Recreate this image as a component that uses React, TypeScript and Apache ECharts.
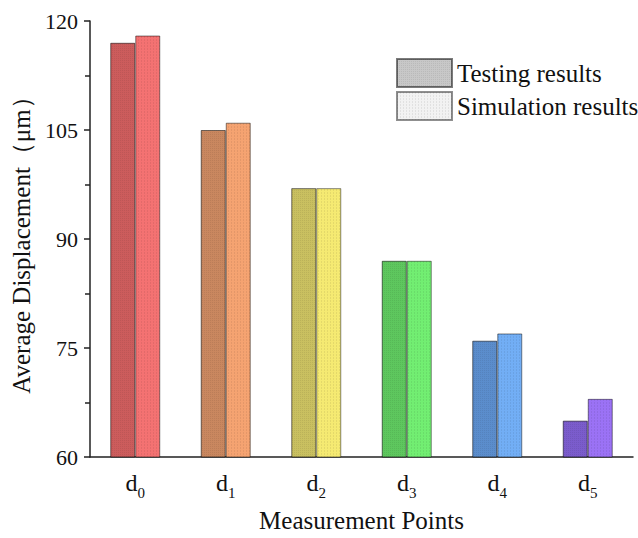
import React, { useEffect, useRef } from "react";
import * as echarts from "echarts";

const categories = ["d0", "d1", "d2", "d3", "d4", "d5"];
const testingValues = [117, 105, 97, 87, 76, 65];
const simulationValues = [118, 106, 97, 87, 77, 68];
const testingColors = ["#cc5c5c", "#c9875f", "#c9c060", "#5ec75e", "#5b8dcc", "#7b5ccc"];
const simulationColors = ["#f47272", "#f5a371", "#f5ea72", "#72ee72", "#72aef5", "#9b72f5"];
const seriesNames = ["Testing results", "Simulation results"];
const yTicks = { min: 60, max: 120, interval: 15 };

const FONT = "'Liberation Serif', 'Times New Roman', serif";

export default function App() {
  const ref = useRef<HTMLDivElement>(null);
  useEffect(() => {
    document.body.style.margin = "0";
    if (!ref.current) return;
    const chart = echarts.init(ref.current, null, { renderer: "svg" });
    const decalTest = {
      symbol: "rect",
      symbolSize: 1,
      dashArrayX: [1, 1],
      dashArrayY: [1, 1],
      color: "rgba(0,0,0,0.07)",
    };
    const decalSim = {
      symbol: "rect",
      symbolSize: 1,
      dashArrayX: [1, 2],
      dashArrayY: [2, 1],
      color: "rgba(0,0,0,0.07)",
    };
    chart.setOption({
      animation: false,
      textStyle: { fontFamily: FONT, color: "#111" },
      grid: { left: 90, right: 5, top: 21, bottom: 79 },
      legend: {
        orient: "vertical",
        left: 396,
        top: 58,
        padding: 0,
        itemWidth: 55,
        itemHeight: 28,
        itemGap: 3,
        icon: "rect",
        textStyle: { fontFamily: FONT, fontSize: 25, color: "#111" },
        data: seriesNames,
      },
      xAxis: {
        type: "category",
        data: categories,
        name: "Measurement Points",
        nameLocation: "middle",
        nameGap: 51,
        nameTextStyle: { fontFamily: FONT, fontSize: 25, color: "#111" },
        axisLine: { lineStyle: { color: "#222", width: 1.5 } },
        axisTick: { alignWithLabel: true, length: 6, lineStyle: { color: "#222", width: 1.5 } },
        axisLabel: {
          margin: 14,
          formatter: (v: string) => `{d|${v.charAt(0)}}{s|${v.slice(1)}}`,
          rich: {
            d: { fontFamily: FONT, fontSize: 24, lineHeight: 28, verticalAlign: "top", color: "#111" },
            s: { fontFamily: FONT, fontSize: 15, lineHeight: 15, verticalAlign: "top", padding: [14, 0, 0, 0], color: "#111" },
          },
        },
      },
      yAxis: {
        type: "value",
        min: yTicks.min,
        max: yTicks.max,
        interval: yTicks.interval,
        name: "Average Displacement（μm）",
        nameLocation: "middle",
        nameGap: 52,
        nameTextStyle: { fontFamily: FONT, fontSize: 25, color: "#111" },
        axisLine: { show: true, lineStyle: { color: "#222", width: 1.5 } },
        axisTick: { show: true, length: 6, lineStyle: { color: "#222", width: 1.5 } },
        minorTick: { show: true, splitNumber: 2, length: 5, lineStyle: { color: "#222", width: 1.5 } },
        axisLabel: { fontFamily: FONT, fontSize: 22, color: "#111", margin: 12 },
        splitLine: { show: false },
      },
      series: [
        {
          name: seriesNames[0],
          type: "bar",
          barWidth: 25,
          barGap: "0%",
          itemStyle: { color: "#c8c8c8", borderColor: "rgba(0,0,0,0.3)", borderWidth: 1, decal: decalTest },
          data: testingValues.map((v, i) => ({ value: v, itemStyle: { color: testingColors[i] } })),
        },
        {
          name: seriesNames[1],
          type: "bar",
          barWidth: 25,
          barGap: "0%",
          itemStyle: { color: "#f2f2f2", borderColor: "rgba(0,0,0,0.25)", borderWidth: 1, decal: decalSim },
          data: simulationValues.map((v, i) => ({ value: v, itemStyle: { color: simulationColors[i] } })),
        },
      ],
    });
    return () => chart.dispose();
  }, []);
  return <div ref={ref} style={{ width: 638, height: 538 }} />;
}
